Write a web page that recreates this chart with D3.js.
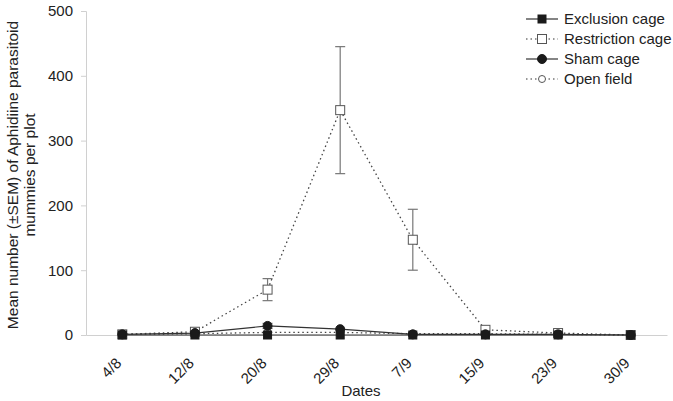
<!DOCTYPE html>
<html>
<head>
<meta charset="utf-8">
<script src="https://d3js.org/d3.v7.min.js"></script>
<style>
  body { margin: 0; background: #fff; }
  text { font-family: "Liberation Sans", Arial, sans-serif; fill: #222; }
</style>
</head>
<body>
<script>
const dates = ['4/8', '12/8', '20/8', '29/8', '7/9', '15/9', '23/9', '30/9']
const exclusion = [0, 0, 0, 0, 0, 0, 0, 0]
const restriction = [1, 5, 70, 347, 147, 8, 3, 0]
const restrictionErr = [0.5, 2, 17, 98, 47, 2, 1, 0]
const sham = [1, 3, 14, 9, 1, 1, 1, 0]
const shamErr = [0.5, 1, 4, 2, 0.5, 0.5, 0.5, 0]
const openField = [1, 2, 4, 4, 2, 2, 1, 0]
const yTicks = [0, 100, 200, 300, 400, 500]

const series = [
  {name: 'Exclusion cage', values: exclusion, dash: null, shape: 'square', fill: '#1a1a1a'},
  {name: 'Restriction cage', values: restriction, err: restrictionErr, dash: '1.5,3', shape: 'square', fill: '#fff'},
  {name: 'Sham cage', values: sham, err: shamErr, dash: null, shape: 'circle', fill: '#1a1a1a'},
  {name: 'Open field', values: openField, dash: '1.5,3', shape: 'circle', fill: '#fff'}
]

const width = 673, height = 401
const margin = {top: 11, right: 6, bottom: 66, left: 86}

const svg = d3.select('body').append('svg')
  .attr('width', width)
  .attr('height', height)

const x = d3.scaleBand()
  .domain(dates)
  .range([margin.left, width - margin.right])
const y = d3.scaleLinear()
  .domain([0, 500])
  .range([height - margin.bottom, margin.top])
const cx = d => x(d) + x.bandwidth() / 2

// y axis
const yAxis = svg.append('g')
  .attr('transform', 'translate(' + margin.left + ',0)')
  .call(d3.axisLeft(y).tickValues(yTicks).tickSize(5).tickPadding(8))
yAxis.select('.domain').attr('stroke', '#d0d0d0')
yAxis.selectAll('.tick line').attr('stroke', '#d0d0d0')
yAxis.selectAll('text').style('font-size', '15px').attr('fill', '#222')

// x axis
const xAxis = svg.append('g')
  .attr('transform', 'translate(0,' + y(0) + ')')
  .call(d3.axisBottom(x).tickSize(0).tickPadding(0))
xAxis.select('.domain').attr('stroke', '#d0d0d0')
xAxis.selectAll('text')
  .style('font-size', '15px')
  .attr('text-anchor', 'end')
  .attr('dy', 0)
  .attr('transform', 'translate(0,29) rotate(-45)')

// axis titles
svg.append('text')
  .attr('transform', 'translate(4,175) rotate(-90)')
  .attr('text-anchor', 'middle')
  .style('font-size', '15.5px')
  .selectAll('tspan')
  .data(['Mean number (\u00b1SEM) of Aphidiine parasitoid', 'mummies per plot'])
  .enter().append('tspan')
    .attr('x', 0)
    .attr('dy', (d, i) => i === 0 ? '0.9em' : '1.1em')
    .text(d => d)

svg.append('text')
  .attr('x', 361)
  .attr('y', 396)
  .attr('text-anchor', 'middle')
  .style('font-size', '15px')
  .text('Dates')

const line = d3.line()
  .x((d, i) => cx(dates[i]))
  .y(d => y(d))

const drawMarker = (g, s, px, py) => {
  if (s.shape === 'square') {
    const sz = s.fill === '#fff' ? 9 : 8
    g.append('rect')
      .attr('x', px - sz / 2).attr('y', py - sz / 2)
      .attr('width', sz).attr('height', sz)
      .attr('fill', s.fill)
      .attr('stroke', s.fill === '#fff' ? '#555' : '#1a1a1a')
      .attr('stroke-width', 1)
  } else {
    g.append('circle')
      .attr('cx', px).attr('cy', py)
      .attr('r', s.fill === '#fff' ? 3.5 : 4.5)
      .attr('fill', s.fill)
      .attr('stroke', s.fill === '#fff' ? '#555' : '#1a1a1a')
      .attr('stroke-width', 1)
  }
}

// draw in reverse so exclusion squares are on top
const order = [3, 1, 2, 0]
order.forEach(k => {
  const s = series[k]
  const g = svg.append('g').attr('class', 'series')
  g.append('path')
    .datum(s.values)
    .attr('d', line)
    .attr('fill', 'none')
    .attr('stroke', s.dash ? '#444' : '#333')
    .attr('stroke-width', s.dash ? 1.3 : 1.2)
    .attr('stroke-dasharray', s.dash)
  if (s.err) {
    s.values.forEach((v, i) => {
      const e = s.err[i]
      if (e < 3) return
      const px = cx(dates[i])
      g.append('line')
        .attr('x1', px).attr('x2', px)
        .attr('y1', y(v - e)).attr('y2', y(v + e))
        .attr('stroke', '#777').attr('stroke-width', 1.2)
      ;[v - e, v + e].forEach(t => {
        g.append('line')
          .attr('x1', px - 5).attr('x2', px + 5)
          .attr('y1', y(t)).attr('y2', y(t))
          .attr('stroke', '#777').attr('stroke-width', 1.2)
      })
    })
  }
  s.values.forEach((v, i) => drawMarker(g, s, cx(dates[i]), y(v)))
})

// legend
const legend = svg.append('g').attr('transform', 'translate(526,19)')
series.forEach((s, i) => {
  const g = legend.append('g').attr('transform', 'translate(0,' + i * 20 + ')')
  g.append('line')
    .attr('x1', 0).attr('x2', 32)
    .attr('y1', 0).attr('y2', 0)
    .attr('stroke', '#333')
    .attr('stroke-width', 1.2)
    .attr('stroke-dasharray', s.dash)
  drawMarker(g, s, 16, 0)
  g.append('text')
    .attr('x', 38)
    .attr('y', 0)
    .attr('dy', '0.35em')
    .style('font-size', '15px')
    .text(s.name)
})
</script>
</body>
</html>
